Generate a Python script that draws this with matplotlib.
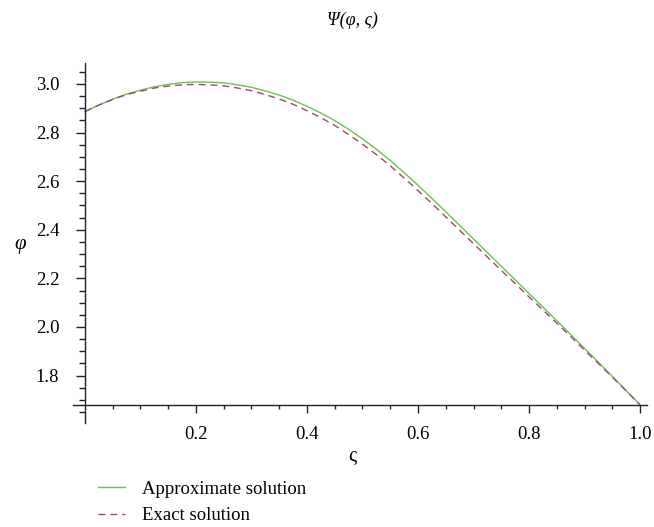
import matplotlib
matplotlib.use("Agg")
import matplotlib.pyplot as plt
from matplotlib.ticker import FixedLocator

x_vals = [0.000, 0.025, 0.050, 0.075, 0.100, 0.125, 0.150, 0.175, 0.200, 0.225,
          0.250, 0.275, 0.300, 0.325, 0.350, 0.375, 0.400, 0.425, 0.450, 0.475,
          0.500, 0.525, 0.550, 0.575, 0.600, 0.625, 0.650, 0.675, 0.700, 0.725,
          0.750, 0.775, 0.800, 0.825, 0.850, 0.875, 0.900, 0.925, 0.950, 0.975, 1.000]
approx_vals = [2.886, 2.913, 2.937, 2.958, 2.974, 2.988, 2.998, 3.005, 3.008, 3.007,
               3.004, 2.996, 2.986, 2.971, 2.954, 2.933, 2.908, 2.880, 2.849, 2.813,
               2.774, 2.731, 2.685, 2.635, 2.583, 2.529, 2.474, 2.418, 2.362, 2.306,
               2.250, 2.194, 2.138, 2.082, 2.026, 1.969, 1.912, 1.855, 1.797, 1.739, 1.680]
exact_vals = [2.886, 2.913, 2.936, 2.956, 2.970, 2.983, 2.991, 2.996, 2.998, 2.996,
              2.992, 2.983, 2.972, 2.956, 2.938, 2.916, 2.890, 2.861, 2.829, 2.792,
              2.752, 2.709, 2.663, 2.613, 2.561, 2.508, 2.453, 2.398, 2.343, 2.288,
              2.233, 2.179, 2.124, 2.070, 2.016, 1.961, 1.905, 1.850, 1.794, 1.737, 1.680]
x_ticks = [0.2, 0.4, 0.6, 0.8, 1.0]
x_ticklabels = ["0.2", "0.4", "0.6", "0.8", "1.0"]
y_ticks = [1.8, 2.0, 2.2, 2.4, 2.6, 2.8, 3.0]
y_ticklabels = ["1.8", "2.0", "2.2", "2.4", "2.6", "2.8", "3.0"]
series_labels = ["Approximate solution", "Exact solution"]

plt.rcParams['font.family'] = ['Liberation Serif', 'DejaVu Serif']

fig = plt.figure(figsize=(6.54, 5.27), dpi=100)
ax = fig.add_axes([0.1121, 0.1973, 0.8767, 0.6832])

green = '#6CC24A'
purple = '#A3437E'
l1, = ax.plot(x_vals, approx_vals, color=green, lw=1.0, label=series_labels[0])
l2, = ax.plot(x_vals, exact_vals, color=purple, lw=1.0, ls=(0, (5, 3.5)), label=series_labels[1])

ax.set_xlim(-0.021, 1.012)
ax.set_ylim(1.605, 3.086)

for s in ['top', 'right']:
    ax.spines[s].set_visible(False)
ax.spines['left'].set_position(('data', 0.0))
ax.spines['bottom'].set_position(('data', 1.68))
for s in ['left', 'bottom']:
    ax.spines[s].set_linewidth(1.0)
    ax.spines[s].set_color('#222222')

ax.xaxis.set_major_locator(FixedLocator(x_ticks))
ax.set_xticklabels(x_ticklabels)
ax.xaxis.set_minor_locator(FixedLocator([v / 20 for v in range(1, 21)]))
ax.yaxis.set_major_locator(FixedLocator(y_ticks))
ax.set_yticklabels(y_ticklabels)
ax.yaxis.set_minor_locator(FixedLocator([1.65 + 0.05 * i for i in range(29)]))

ax.tick_params(axis='both', which='major', labelsize=13.5, color='#222222', width=1.0)
ax.tick_params(axis='x', which='major', direction='out', length=5.5, pad=10)
ax.tick_params(axis='x', which='minor', direction='out', length=3.2, width=1.0, color='#222222')
ax.tick_params(axis='y', which='major', direction='out', length=6.5, pad=12)
ax.tick_params(axis='y', which='minor', direction='out', length=4, width=1.0, color='#222222')

fig.text(352 / 654, 1 - 20 / 527, "Ψ(φ, ς)", ha='center', va='center', fontsize=13, style='italic')
fig.text(20 / 654, 1 - 245 / 527, "φ", ha='center', va='center', fontsize=15, style='italic')
fig.text(352 / 654, 1 - 456 / 527, "ς", ha='center', va='center', fontsize=15)

fig.legend(handles=[l1, l2], labels=series_labels, loc='upper left',
           bbox_to_anchor=(90 / 654, 1 - 473 / 527), frameon=False, fontsize=13.5,
           handlelength=1.45, handletextpad=0.9, labelspacing=0.5, borderaxespad=0)

fig.savefig("out.png", dpi=100)
